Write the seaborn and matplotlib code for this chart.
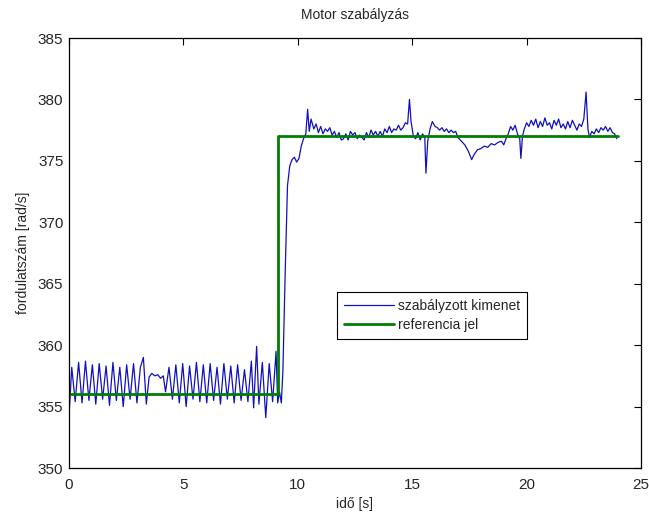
import numpy as np
import pandas as pd
import seaborn as sns
import matplotlib.pyplot as plt

# reference signal (step)
ref_time = [0.0, 9.15, 9.15, 24.0]
ref_speed = [356.0, 356.0, 377.0, 377.0]

out_time = [
    0.00, 0.12, 0.27, 0.42, 0.57, 0.72, 0.87, 1.02, 1.17, 1.32, 1.47, 1.62,
    1.77, 1.92, 2.07, 2.22, 2.37, 2.52, 2.67, 2.82, 2.97, 3.12, 3.25, 3.38,
    3.50, 3.62, 3.75, 3.88, 4.00, 4.12, 4.22, 4.37, 4.52, 4.67, 4.82, 4.97,
    5.12, 5.27, 5.42, 5.57, 5.72, 5.87, 6.02, 6.17, 6.32, 6.47, 6.62, 6.77,
    6.92, 7.07, 7.22, 7.37, 7.52, 7.67, 7.82, 7.97, 8.07, 8.20, 8.30, 8.45,
    8.60, 8.75, 8.90, 9.05, 9.12, 9.20, 9.28, 9.35, 9.45, 9.55, 9.65, 9.75,
    9.85, 9.95, 10.05, 10.15, 10.25, 10.35, 10.43, 10.50, 10.58, 10.70, 10.80,
    10.90, 11.00, 11.10, 11.20, 11.30, 11.40, 11.50, 11.60, 11.70, 11.80,
    11.90, 12.00, 12.10, 12.20, 12.30, 12.40, 12.50, 12.60, 12.70, 12.80,
    12.90, 13.00, 13.10, 13.20, 13.30, 13.40, 13.50, 13.60, 13.70, 13.80,
    13.90, 14.00, 14.10, 14.20, 14.30, 14.40, 14.50, 14.60, 14.70, 14.80,
    14.88, 14.95, 15.05, 15.15, 15.25, 15.35, 15.45, 15.55, 15.60, 15.68,
    15.78, 15.88, 16.00, 16.10, 16.20, 16.30, 16.40, 16.50, 16.60, 16.70,
    16.80, 16.90, 17.00, 17.10, 17.20, 17.30, 17.45, 17.60, 17.70, 17.85,
    18.00, 18.15, 18.30, 18.45, 18.60, 18.75, 18.90, 19.00, 19.10, 19.20,
    19.30, 19.40, 19.50, 19.60, 19.70, 19.75, 19.82, 19.90, 20.00, 20.10,
    20.20, 20.30, 20.40, 20.50, 20.60, 20.70, 20.80, 20.90, 21.00, 21.10,
    21.20, 21.30, 21.40, 21.50, 21.60, 21.70, 21.80, 21.90, 22.00, 22.10,
    22.20, 22.30, 22.40, 22.50, 22.60, 22.68, 22.75, 22.85, 22.95, 23.05,
    23.15, 23.25, 23.35, 23.45, 23.55, 23.65, 23.75, 23.85, 23.94,
]
out_speed = [
    354.2, 358.2, 355.4, 358.6, 355.3, 358.7, 355.5, 358.4, 355.2, 358.5, 355.6, 358.3,
    355.1, 358.6, 355.5, 358.2, 355.0, 358.4, 355.6, 358.5, 355.3, 358.2, 359.0, 355.2,
    357.4, 357.7, 357.5, 357.6, 357.3, 357.5, 356.2, 358.2, 355.6, 358.4, 355.3, 358.5,
    355.0, 358.3, 355.6, 358.6, 355.4, 358.4, 355.3, 358.5, 355.5, 358.2, 355.2, 358.5,
    355.6, 358.3, 355.3, 358.4, 355.5, 358.0, 355.4, 358.7, 354.9, 359.9, 355.2, 358.6,
    354.1, 358.5, 355.4, 359.5, 355.3, 356.2, 355.3, 358.0, 366.0, 373.0, 374.6, 375.1,
    375.3, 374.9, 375.2, 376.2, 376.8, 377.2, 379.2, 377.4, 378.4, 377.6, 378.0,
    377.3, 377.8, 377.2, 377.6, 377.4, 377.7, 377.1, 377.4, 376.9, 377.3,
    376.7, 376.8, 377.2, 376.7, 377.4, 377.1, 377.3, 376.8, 377.1, 376.9,
    376.7, 377.3, 376.9, 377.5, 377.1, 377.4, 377.0, 377.4, 377.0, 377.6,
    377.3, 377.8, 377.3, 377.6, 377.5, 377.9, 377.5, 377.7, 378.1, 378.0,
    380.0, 378.2, 377.0, 376.8, 377.3, 376.7, 377.2, 376.9, 374.0, 376.6,
    377.6, 378.2, 377.8, 377.7, 377.5, 377.7, 377.4, 377.6, 377.3, 377.5,
    377.3, 377.4, 376.9, 376.7, 376.5, 376.3, 375.8, 375.1, 375.5, 375.9,
    376.0, 376.2, 376.1, 376.4, 376.3, 376.5, 376.6, 376.3, 376.8, 377.2,
    377.8, 377.5, 377.9, 377.2, 376.8, 375.2, 377.0, 377.6, 378.1, 377.8,
    378.3, 377.9, 378.4, 377.7, 378.2, 377.8, 378.5, 377.9, 378.1, 377.6,
    378.3, 377.9, 378.4, 377.7, 378.0, 377.6, 378.2, 377.7, 378.3, 377.9,
    377.5, 378.0, 377.8, 378.4, 380.6, 377.6, 376.9, 377.4, 377.2, 377.6,
    377.3, 377.7, 377.5, 377.8, 377.4, 377.7, 377.3, 377.2, 376.8,
]

out_df = pd.DataFrame({'t': out_time, 'w': out_speed})
ref_df = pd.DataFrame({'t': ref_time, 'w': ref_speed})

sns.set_style('white')
plt.rcParams['font.family'] = ['Liberation Sans', 'DejaVu Sans']

fig = plt.figure(figsize=(6.49, 5.12), dpi=100)
ax = fig.add_axes([69 / 649, 1 - 468 / 512, 572 / 649, 430 / 512])

sns.lineplot(data=out_df, x='t', y='w', ax=ax, color='#1010c0', linewidth=0.9,
             estimator=None, sort=False, label='szabályzott kimenet')
sns.lineplot(data=ref_df, x='t', y='w', ax=ax, color='#007f00', linewidth=2.0,
             estimator=None, sort=False, label='referencia jel')

ax.set_xlim(0, 25)
ax.set_ylim(350, 385)
ax.set_xticks(np.arange(0, 26, 5))
ax.set_yticks(np.arange(350, 386, 5))
ax.tick_params(direction='in', length=5, width=0.8, labelsize=11, color='black',
               top=True, right=True)
ax.tick_params(axis='x', pad=7)
ax.tick_params(axis='y', pad=4)
for sp in ax.spines.values():
    sp.set_visible(True)
    sp.set_color('black')
    sp.set_linewidth(0.9)

ax.set_title('Motor szabályzás', fontsize=10, pad=14)
ax.set_xlabel('idő [s]', fontsize=10, labelpad=4)
ax.set_ylabel('fordulatszám [rad/s]', fontsize=10, labelpad=6)

leg = ax.legend(loc='center', bbox_to_anchor=(0.634, 0.355), fontsize=10,
                frameon=True, fancybox=False, framealpha=1, edgecolor='black',
                handlelength=3.6, handletextpad=0.3, borderpad=0.5, labelspacing=0.4)
leg.get_frame().set_linewidth(0.8)

fig.savefig('out.png', dpi=100)
